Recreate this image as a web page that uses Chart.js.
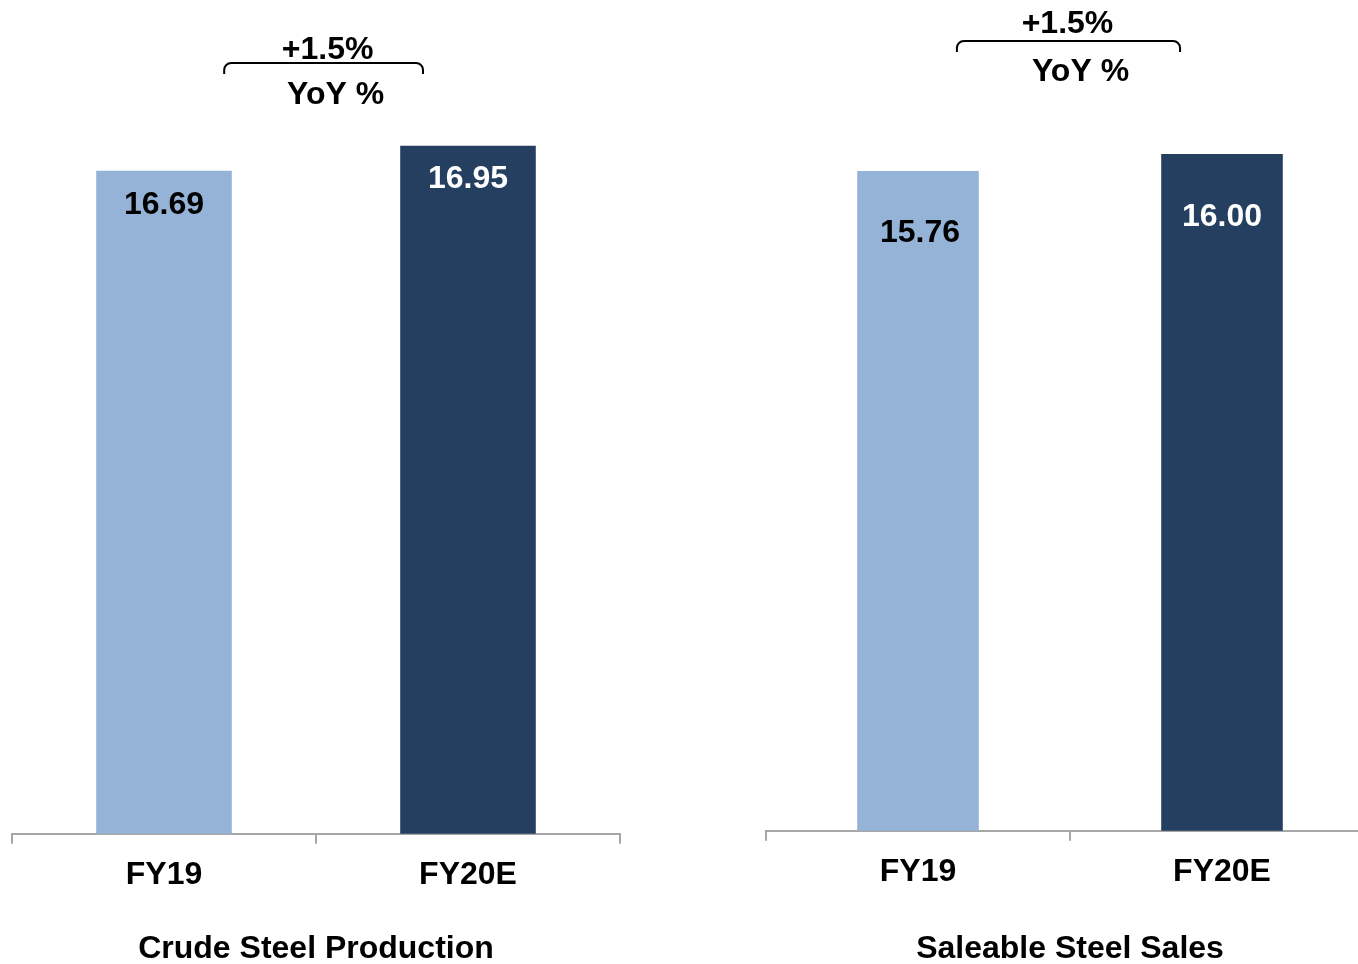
<!DOCTYPE html>
<html>
<head>
<meta charset="utf-8">
<script src="https://cdn.jsdelivr.net/npm/chart.js@4.4.1/dist/chart.umd.min.js"></script>
<style>
  html, body { margin: 0; padding: 0; background: #fff; overflow: hidden; width: 1358px; height: 964px; }
  canvas { position: absolute; top: 0; }
  #crude { left: 1px; }
  #saleable { left: 743px; }
</style>
</head>
<body>
<canvas id="crude" width="640" height="970" style="width:640px;height:970px"></canvas>
<canvas id="saleable" width="660" height="970" style="width:660px;height:970px"></canvas>
<script>
// values (mtpa)
const categories = ['FY19', 'FY20E'];
const crudeSteel = [16.69, 16.95];
const saleableSteel = [15.76, 16.00];
const panelTitles = ['Crude Steel Production', 'Saleable Steel Sales'];
const growthText = ['+1.5%', '+1.5%'];
const growthCaption = 'YoY %';

const FONT = "'Liberation Sans', Arial, Helvetica, sans-serif";
const SIZE = 32;
const LIGHT = '#95b3d7';
const DARK = '#243f60';
const AXIS = '#a6a6a6';

// value labels inside the bars
const valueLabels = {
  id: 'valueLabels',
  afterDatasetsDraw(chart, args, opts) {
    const ctx = chart.ctx;
    const meta = chart.getDatasetMeta(0);
    ctx.save();
    ctx.font = 'bold ' + SIZE + 'px ' + FONT;
    ctx.textAlign = 'center';
    ctx.textBaseline = 'middle';
    meta.data.forEach((bar, i) => {
      ctx.fillStyle = opts.colors[i];
      ctx.fillText(chart.data.datasets[0].data[i].toFixed(2), bar.x + opts.dx[i], bar.y + opts.dy[i]);
    });
    ctx.restore();
  }
};

// curly "+1.5% / YoY %" bracket above the bars
const growthBracket = {
  id: 'growthBracket',
  afterDraw(chart, args, opts) {
    const ctx = chart.ctx;
    const a = chart.chartArea;
    const x0 = a.left + opts.from * (a.right - a.left);
    const x1 = a.left + opts.to * (a.right - a.left);
    const y = opts.y, h = 11, r = 7;
    ctx.save();
    ctx.strokeStyle = '#000';
    ctx.lineWidth = 2;
    ctx.beginPath();
    ctx.moveTo(x0, y + h);
    ctx.arcTo(x0, y, x0 + r, y, r);
    ctx.lineTo(x1 - r, y);
    ctx.arcTo(x1, y, x1, y + h, r);
    ctx.lineTo(x1, y + h);
    ctx.stroke();
    ctx.fillStyle = '#000';
    ctx.font = 'bold ' + SIZE + 'px ' + FONT;
    ctx.textAlign = 'center';
    ctx.textBaseline = 'middle';
    const cx = (x0 + x1) / 2;
    ctx.fillText(opts.text, cx + opts.textDx, y - opts.textUp);
    ctx.fillText(growthCaption, cx + opts.captionDx, y + opts.captionDown);
    ctx.restore();
  }
};

function makePanel(id, values, title, growth, cfg) {
  new Chart(document.getElementById(id), {
    type: 'bar',
    data: {
      labels: categories,
      datasets: [{
        data: values,
        backgroundColor: [LIGHT, DARK],
        borderWidth: 0,
        categoryPercentage: 1,
        barPercentage: cfg.barPct
      }]
    },
    options: {
      responsive: false,
      animation: false,
      layout: { padding: { top: cfg.top, left: cfg.left, right: cfg.right, bottom: 0 } },
      plugins: {
        legend: { display: false },
        tooltip: { enabled: false },
        title: {
          display: true,
          position: 'bottom',
          text: title,
          color: '#000',
          font: { family: FONT, size: SIZE, weight: 'bold' },
          padding: { top: cfg.titleTop, bottom: 2 }
        },
        valueLabels: { colors: ['#000', '#fff'], dx: cfg.labelDx, dy: cfg.labelDy },
        growthBracket: {
          from: cfg.bracket[0], to: cfg.bracket[1], y: cfg.bracketY,
          text: growth, textDx: cfg.textDx, textUp: cfg.textUp, captionDx: cfg.captionDx, captionDown: cfg.captionDown
        }
      },
      scales: {
        x: {
          grid: { offset: true, drawOnChartArea: false, tickLength: 10, color: AXIS, lineWidth: 2 },
          border: { color: AXIS, width: 2 },
          ticks: { color: '#000', padding: 12, font: { family: FONT, size: SIZE, weight: 'bold' } }
        },
        y: { display: false, min: cfg.min, max: cfg.max }
      }
    },
    plugins: [valueLabels, growthBracket]
  });
}

makePanel('crude', crudeSteel, panelTitles[0], growthText[0], {
  barPct: 0.446, top: 141, left: 11, right: 21, titleTop: 23.4,
  min: 9.8, max: 17.0,
  labelDx: [0, 0], labelDy: [34, 33],
  bracket: [0.349, 0.676], bracketY: 63, textDx: 4, textUp: 13, captionDx: 12, captionDown: 32
});

makePanel('saleable', saleableSteel, panelTitles[1], growthText[1], {
  barPct: 0.40, top: 147, left: 23, right: 29, titleTop: 26.4,
  min: 6.4, max: 16.1,
  labelDx: [2, 0], labelDy: [62, 63],
  bracket: [0.314, 0.681], bracketY: 41, textDx: -1, textUp: 17, captionDx: 12, captionDown: 31
});
</script>
</body>
</html>
